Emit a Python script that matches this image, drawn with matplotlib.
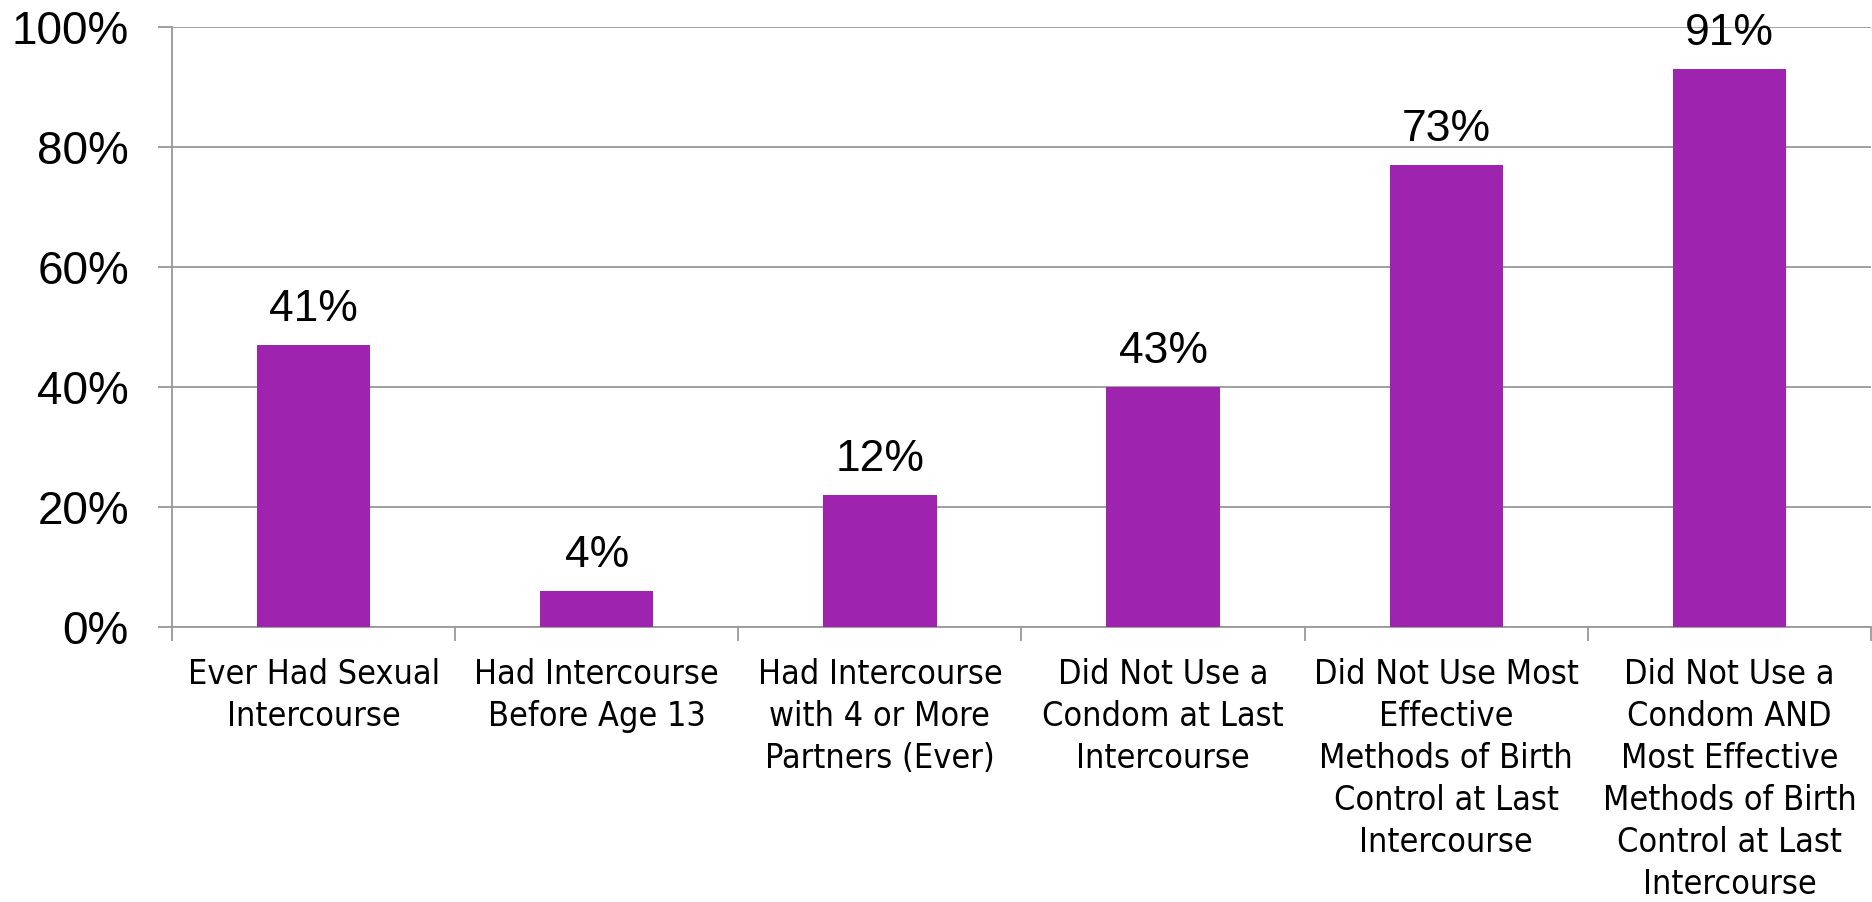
import matplotlib.pyplot as plt
from matplotlib import font_manager
import numpy as np

categories = ['Ever Had Sexual\nIntercourse',
              'Had Intercourse\nBefore Age 13',
              'Had Intercourse\nwith 4 or More\nPartners (Ever)',
              'Did Not Use a\nCondom at Last\nIntercourse',
              'Did Not Use Most\nEffective\nMethods of Birth\nControl at Last\nIntercourse',
              'Did Not Use a\nCondom AND\nMost Effective\nMethods of Birth\nControl at Last\nIntercourse']
bar_heights = [47, 6, 22, 40, 77, 93]
bar_labels = ['41%', '4%', '12%', '43%', '73%', '91%']
y_ticks = [0, 20, 40, 60, 80, 100]

# look for a narrow face for the category labels
narrow = None
for f in font_manager.fontManager.ttflist:
    nm = f.name.lower()
    st = str(f.stretch).lower()
    if ('narrow' in nm or 'condensed' in nm or st in ('condensed', 'semi-condensed', '500', '600')) \
            and 'mono' not in nm and 'serif' not in nm and f.style == 'normal' \
            and f.weight in (400, 'normal', 'regular'):
        narrow = f
        break

fig = plt.figure(figsize=(18.72, 9.02), dpi=100)
ax = fig.add_axes([172/1872, 1 - 627/902, 1699/1872, 600/902])

x = np.arange(len(categories))
bars = ax.bar(x, bar_heights, width=0.4, color='#9E24B0', zorder=3)
for b, lab in zip(bars, bar_labels):
    ax.annotate(lab, (b.get_x() + b.get_width()/2, b.get_height()),
                xytext=(0, 17), textcoords='offset points',
                ha='center', va='baseline', fontsize=32,
                family='Liberation Sans')

ax.set_xlim(-0.5, len(categories) - 0.5)
ax.set_ylim(0, 100)
ax.set_yticks(y_ticks)
ax.set_yticklabels(['%d%%' % v for v in y_ticks], fontsize=33, family='Liberation Sans')
ax.yaxis.grid(True, color='#999999', linewidth=1.3, zorder=0)
ax.tick_params(axis='y', length=10, width=1.3, color='#999999', pad=21)

ax.set_xticks(x)
if narrow is not None:
    fp = font_manager.FontProperties(fname=narrow.fname, size=24.5)
    ax.set_xticklabels(categories, fontproperties=fp, linespacing=1.35)
else:
    ax.set_xticklabels(categories, fontsize=24, family='Liberation Sans', linespacing=1.4)
ax.set_xticks(np.arange(len(categories) + 1) - 0.5, minor=True)
ax.tick_params(axis='x', which='major', length=0, pad=22)
ax.tick_params(axis='x', which='minor', length=10, width=1.3, color='#999999')

for s in ['top', 'right']:
    ax.spines[s].set_visible(False)
for s in ['left', 'bottom']:
    ax.spines[s].set_color('#999999')
    ax.spines[s].set_linewidth(1.3)

fig.savefig('out.png', dpi=100)
